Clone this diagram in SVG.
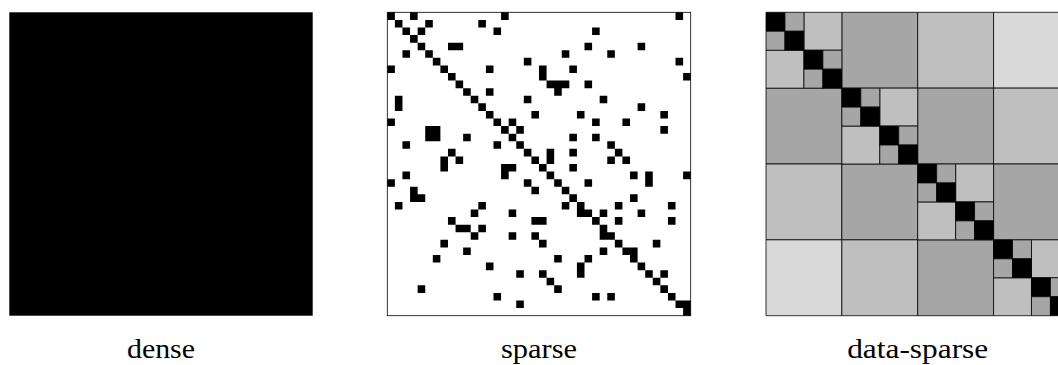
<svg xmlns="http://www.w3.org/2000/svg" width="1058" height="365" viewBox="0 0 1058 365">
<style>
.lbl{font-family:"Liberation Serif","DejaVu Serif",serif;font-size:28px;fill:#000;text-anchor:middle}
.ds rect{stroke:#000;stroke-width:0.8;vector-effect:non-scaling-stroke}
.g1{fill:#a6a6a6}.g2{fill:#bfbfbf}.g3{fill:#d9d9d9}.bk{fill:#000}
</style>
<rect width="1058" height="365" fill="#fff"/>
<g id="dense">
<rect x="9.3" y="12.3" width="303.4" height="303.4" fill="#000"/>
<text class="lbl" x="161" y="358" textLength="68" lengthAdjust="spacingAndGlyphs">dense</text>
</g>
<g id="sparse">
<rect x="387.3" y="12.3" width="303.4" height="303.4" fill="#fff" stroke="#000" stroke-width="0.8"/>
<g transform="translate(387.3 12.3) scale(7.585)">
<path fill="#000" d="M0 0h1v1h-1zM1 1h1v1h-1zM2 2h1v1h-1zM3 3h1v1h-1zM4 4h1v1h-1zM5 5h1v1h-1zM6 6h1v1h-1zM7 7h1v1h-1zM8 8h1v1h-1zM9 9h1v1h-1zM10 10h1v1h-1zM11 11h1v1h-1zM12 12h1v1h-1zM13 13h1v1h-1zM14 14h1v1h-1zM15 15h1v1h-1zM16 16h1v1h-1zM17 17h1v1h-1zM18 18h1v1h-1zM19 19h1v1h-1zM20 20h1v1h-1zM21 21h1v1h-1zM22 22h1v1h-1zM23 23h1v1h-1zM24 24h1v1h-1zM25 25h1v1h-1zM26 26h1v1h-1zM27 27h1v1h-1zM28 28h1v1h-1zM29 29h1v1h-1zM30 30h1v1h-1zM31 31h1v1h-1zM32 32h1v1h-1zM33 33h1v1h-1zM34 34h1v1h-1zM35 35h1v1h-1zM36 36h1v1h-1zM37 37h1v1h-1zM38 38h1v1h-1zM39 39h1v1h-1z
M3 0h1v1h-1zM15 0h1v1h-1zM38 0h1v1h-1z
M5 1h1v1h-1zM12 1h1v1h-1z
M4 2h1v1h-1zM14 2h1v1h-1zM27 2h1v1h-1z
M8 4h1v1h-1zM9 4h1v1h-1zM26 4h1v1h-1zM33 4h1v1h-1z
M2 5h1v1h-1zM23 5h1v1h-1zM29 5h1v1h-1z
M18 6h1v1h-1zM38 6h1v1h-1z
M0 7h1v1h-1zM13 7h1v1h-1zM20 7h1v1h-1zM24 7h1v1h-1z
M20 8h1v1h-1zM39 8h1v1h-1z
M21 9h1v1h-1zM22 9h1v1h-1zM23 9h1v1h-1zM26 9h1v1h-1z
M13 10h1v1h-1zM22 10h1v1h-1z
M1 11h1v1h-1zM18 11h1v1h-1zM28 11h1v1h-1z
M1 12h1v1h-1zM33 12h1v1h-1z
M19 13h1v1h-1zM25 13h1v1h-1zM36 13h1v1h-1z
M0 14h1v1h-1zM16 14h1v1h-1zM27 14h1v1h-1zM31 14h1v1h-1z
M5 15h1v1h-1zM6 15h1v1h-1zM17 15h1v1h-1zM36 15h1v1h-1z
M5 16h1v1h-1zM6 16h1v1h-1zM10 16h1v1h-1zM24 16h1v1h-1zM27 16h1v1h-1z
M2 17h1v1h-1zM14 17h1v1h-1zM29 17h1v1h-1z
M8 18h1v1h-1zM21 18h1v1h-1zM24 18h1v1h-1zM30 18h1v1h-1z
M7 19h1v1h-1zM9 19h1v1h-1zM21 19h1v1h-1zM29 19h1v1h-1zM31 19h1v1h-1z
M7 20h1v1h-1zM15 20h1v1h-1zM16 20h1v1h-1zM24 20h1v1h-1z
M2 21h1v1h-1zM15 21h1v1h-1zM32 21h1v1h-1zM34 21h1v1h-1zM39 21h1v1h-1z
M0 22h1v1h-1zM18 22h1v1h-1zM26 22h1v1h-1zM34 22h1v1h-1z
M3 23h1v1h-1zM19 23h1v1h-1z
M3 24h1v1h-1zM4 24h1v1h-1zM32 24h1v1h-1z
M1 25h1v1h-1zM12 25h1v1h-1zM23 25h1v1h-1zM30 25h1v1h-1zM37 25h1v1h-1z
M11 26h1v1h-1zM16 26h1v1h-1zM25 26h1v1h-1zM28 26h1v1h-1zM33 26h1v1h-1z
M8 27h1v1h-1zM19 27h1v1h-1zM20 27h1v1h-1zM30 27h1v1h-1zM37 27h1v1h-1z
M9 28h1v1h-1zM10 28h1v1h-1zM12 28h1v1h-1z
M11 29h1v1h-1zM16 29h1v1h-1zM19 29h1v1h-1zM28 29h1v1h-1z
M7 30h1v1h-1zM20 30h1v1h-1zM35 30h1v1h-1z
M10 31h1v1h-1zM28 31h1v1h-1zM32 31h1v1h-1z
M6 32h1v1h-1zM22 32h1v1h-1zM26 32h1v1h-1z
M13 33h1v1h-1zM25 33h1v1h-1z
M17 34h1v1h-1zM20 34h1v1h-1zM25 34h1v1h-1zM36 34h1v1h-1z
M21 35h1v1h-1z
M4 36h1v1h-1zM22 36h1v1h-1z
M14 37h1v1h-1zM27 37h1v1h-1zM29 37h1v1h-1z
M17 38h1v1h-1zM39 38h1v1h-1z"/>
</g>
<text class="lbl" x="539" y="358" textLength="76" lengthAdjust="spacingAndGlyphs">sparse</text>
</g>
<g id="data-sparse">
<g class="ds" transform="translate(766 12.3) scale(18.9625)">
<rect class="g1" x="4" y="0" width="4" height="4"/>
<rect class="g2" x="8" y="0" width="4" height="4"/>
<rect class="g3" x="12" y="0" width="4" height="4"/>
<rect class="g1" x="0" y="4" width="4" height="4"/>
<rect class="g1" x="8" y="4" width="4" height="4"/>
<rect class="g2" x="12" y="4" width="4" height="4"/>
<rect class="g2" x="0" y="8" width="4" height="4"/>
<rect class="g1" x="4" y="8" width="4" height="4"/>
<rect class="g1" x="12" y="8" width="4" height="4"/>
<rect class="g3" x="0" y="12" width="4" height="4"/>
<rect class="g2" x="4" y="12" width="4" height="4"/>
<rect class="g1" x="8" y="12" width="4" height="4"/>
<rect class="g2" x="2" y="0" width="2" height="2"/><rect class="g2" x="0" y="2" width="2" height="2"/>
<rect class="g2" x="6" y="4" width="2" height="2"/><rect class="g2" x="4" y="6" width="2" height="2"/>
<rect class="g2" x="10" y="8" width="2" height="2"/><rect class="g2" x="8" y="10" width="2" height="2"/>
<rect class="g2" x="14" y="12" width="2" height="2"/><rect class="g2" x="12" y="14" width="2" height="2"/>
<rect class="bk" x="0" y="0" width="1" height="1"/><rect class="g1" x="1" y="0" width="1" height="1"/><rect class="g1" x="0" y="1" width="1" height="1"/><rect class="bk" x="1" y="1" width="1" height="1"/>
<rect class="bk" x="2" y="2" width="1" height="1"/><rect class="g1" x="3" y="2" width="1" height="1"/><rect class="g1" x="2" y="3" width="1" height="1"/><rect class="bk" x="3" y="3" width="1" height="1"/>
<rect class="bk" x="4" y="4" width="1" height="1"/><rect class="g1" x="5" y="4" width="1" height="1"/><rect class="g1" x="4" y="5" width="1" height="1"/><rect class="bk" x="5" y="5" width="1" height="1"/>
<rect class="bk" x="6" y="6" width="1" height="1"/><rect class="g1" x="7" y="6" width="1" height="1"/><rect class="g1" x="6" y="7" width="1" height="1"/><rect class="bk" x="7" y="7" width="1" height="1"/>
<rect class="bk" x="8" y="8" width="1" height="1"/><rect class="g1" x="9" y="8" width="1" height="1"/><rect class="g1" x="8" y="9" width="1" height="1"/><rect class="bk" x="9" y="9" width="1" height="1"/>
<rect class="bk" x="10" y="10" width="1" height="1"/><rect class="g1" x="11" y="10" width="1" height="1"/><rect class="g1" x="10" y="11" width="1" height="1"/><rect class="bk" x="11" y="11" width="1" height="1"/>
<rect class="bk" x="12" y="12" width="1" height="1"/><rect class="g1" x="13" y="12" width="1" height="1"/><rect class="g1" x="12" y="13" width="1" height="1"/><rect class="bk" x="13" y="13" width="1" height="1"/>
<rect class="bk" x="14" y="14" width="1" height="1"/><rect class="g1" x="15" y="14" width="1" height="1"/><rect class="g1" x="14" y="15" width="1" height="1"/><rect class="bk" x="15" y="15" width="1" height="1"/>
</g>
<text class="lbl" x="917.7" y="358" textLength="141" lengthAdjust="spacingAndGlyphs">data-sparse</text>
</g>
</svg>
